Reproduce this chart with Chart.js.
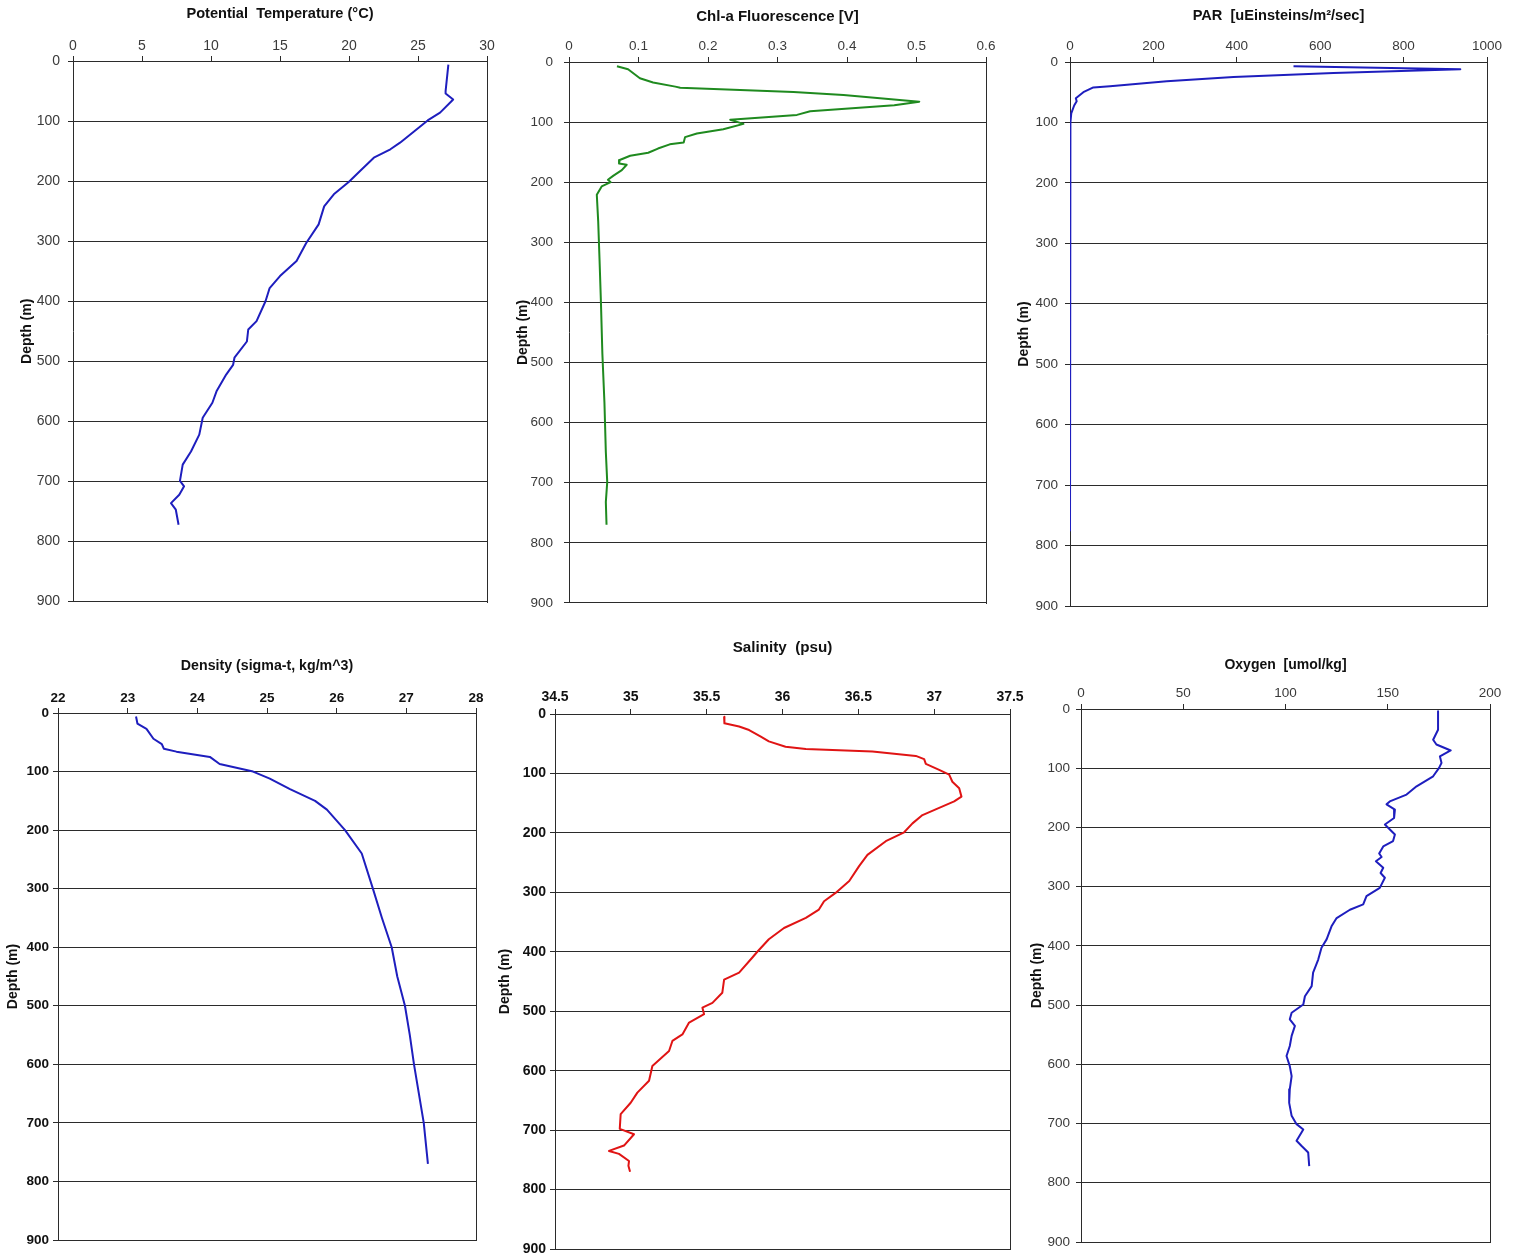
<!DOCTYPE html>
<html>
<head>
<meta charset="utf-8">
<title>CTD profiles</title>
<script src="https://cdn.jsdelivr.net/npm/chart.js@4.4.1/dist/chart.umd.min.js"></script>
<style>
  html, body { margin: 0; padding: 0; background: #fff; }
  body { position: relative; width: 1522px; height: 1259px; overflow: hidden; }
  .panel { position: absolute; }
</style>
</head>
<body>
<div class="panel"><canvas id="tempChart"></canvas></div>
<div class="panel"><canvas id="chlChart"></canvas></div>
<div class="panel"><canvas id="parChart"></canvas></div>
<div class="panel"><canvas id="densChart"></canvas></div>
<div class="panel"><canvas id="salChart"></canvas></div>
<div class="panel"><canvas id="oxyChart"></canvas></div>
<script>
// Depth axis (shared by every panel)
const depthTicks = [0, 100, 200, 300, 400, 500, 600, 700, 800, 900];

// Potential temperature
const tempTicks = [0, 5, 10, 15, 20, 25, 30];
const tempDepth = [6, 50, 54, 64, 86, 99, 136, 147, 161, 183, 201, 222, 242, 272, 303, 333, 358, 378, 400, 433, 447, 467, 494, 506, 522, 550, 569, 594, 622, 650, 672, 699, 708, 722, 736, 747, 772];
const tempValue = [27.2, 27.0, 27.0, 27.55, 26.6, 25.7, 23.7, 23.0, 21.8, 20.8, 20.0, 18.9, 18.2, 17.8, 16.9, 16.2, 15.0, 14.25, 13.95, 13.3, 12.7, 12.6, 11.7, 11.6, 11.1, 10.4, 10.1, 9.4, 9.15, 8.55, 7.95, 7.75, 8.05, 7.7, 7.1, 7.45, 7.65];

// Chl-a fluorescence
const chlTicks = [0, 0.1, 0.2, 0.3, 0.4, 0.5, 0.6];
const chlDepth = [7, 12, 27, 34, 41, 43, 50, 55, 66, 72, 82, 88, 96, 98, 103, 112, 119, 125, 134, 137, 144, 151, 156, 163, 169, 171, 180, 189, 196, 200, 207, 221, 265, 331, 402, 485, 567, 649, 699, 732, 770];
const chlValue = [0.069, 0.085, 0.102, 0.121, 0.153, 0.160, 0.323, 0.395, 0.504, 0.468, 0.347, 0.328, 0.232, 0.237, 0.251, 0.222, 0.184, 0.167, 0.165, 0.145, 0.128, 0.114, 0.088, 0.073, 0.072, 0.083, 0.076, 0.064, 0.056, 0.060, 0.047, 0.040, 0.042, 0.044, 0.046, 0.048, 0.051, 0.053, 0.055, 0.053, 0.054];

// PAR
const parTicks = [0, 200, 400, 600, 800, 1000];
const parDepth = [7, 12, 18, 25, 32, 40, 42, 50, 60, 65, 72, 85, 100, 140, 775];
const parValue = [536, 936, 632, 392, 232, 96, 56, 32, 14, 16, 10, 3, 1, 0, 0];

// Density (sigma-t)
const densTicks = [22, 23, 24, 25, 26, 27, 28];
const densDepth = [6, 18, 27, 44, 53, 61, 66, 75, 87, 100, 112, 130, 150, 165, 200, 240, 300, 350, 400, 450, 500, 550, 600, 650, 700, 770];
const densValue = [23.12, 23.14, 23.27, 23.37, 23.49, 23.52, 23.70, 24.18, 24.32, 24.80, 25.04, 25.33, 25.69, 25.86, 26.12, 26.36, 26.52, 26.65, 26.79, 26.87, 26.98, 27.05, 27.11, 27.18, 27.25, 27.31];

// Salinity
const salTicks = [34.5, 35, 35.5, 36, 36.5, 37, 37.5];
const salDepth = [4.5, 15.7, 21, 27, 38, 46, 55, 59, 63, 70.5, 76, 84, 94, 102, 114, 125, 139, 147, 158, 170, 184, 199, 214, 237, 256, 281, 301, 315, 329, 343, 360, 379, 400, 410, 435, 447, 469, 486, 494, 505, 519, 539, 550, 567, 592, 617, 637, 654, 673, 698, 707, 726, 735, 740, 752, 760, 770];
const salValue = [35.615, 35.617, 35.714, 35.78, 35.857, 35.91, 36.02, 36.154, 36.593, 36.879, 36.934, 36.945, 37.033, 37.099, 37.12, 37.165, 37.18, 37.132, 37.033, 36.923, 36.857, 36.802, 36.681, 36.56, 36.505, 36.44, 36.35, 36.274, 36.24, 36.154, 36.01, 35.91, 35.834, 35.80, 35.714, 35.615, 35.603, 35.538, 35.472, 35.483, 35.384, 35.34, 35.274, 35.252, 35.142, 35.12, 35.043, 34.999, 34.933, 34.927, 35.021, 34.955, 34.856, 34.922, 34.988, 34.984, 34.995];

// Oxygen
const oxyTicks = [0, 50, 100, 150, 200];
const oxyDepth = [4, 35, 52, 60, 70, 80, 91, 99.5, 113.6, 130.5, 144.5, 156, 161, 170, 184, 195, 212, 223, 232, 244, 250, 257, 268, 277, 285, 302, 316, 330, 339, 353, 367, 389, 403, 423, 445, 468, 485, 499, 513, 524, 535, 552, 569, 586, 603, 620, 642, 665, 687, 701, 710, 729, 738, 749, 772];
const oxyValue = [174.6, 174.6, 172.2, 173.8, 180.8, 175.5, 176.3, 175.1, 172.2, 164.1, 159.2, 151.0, 149.4, 153.5, 153.1, 148.6, 153.5, 152.6, 147.8, 145.8, 147.0, 144.2, 147.8, 146.5, 148.6, 146.1, 139.6, 138.0, 131.5, 125.0, 122.5, 120.1, 117.6, 116.0, 113.5, 112.8, 109.5, 108.7, 103.0, 102.1, 104.6, 103.0, 102.1, 100.5, 102.1, 103.0, 102.1, 101.8, 103.0, 105.4, 108.7, 105.4, 107.9, 111.1, 111.6];

Chart.defaults.font.family = '"Liberation Sans", Arial, Helvetica, sans-serif';

const BLUE = '#1e1ebe';
const LINE = '#2b2b2b';

// Where each plot sits on the page (plot box edges, title / label positions)
const panels = [
    { canvas: 'tempChart', title: 'Potential  Temperature (°C)', depth: tempDepth, values: tempValue, xTicks: tempTicks, color: BLUE, bold: false,
      titleSize: 14.6, tickSize: 14,
      left: 73, top: 61, right: 487, bottom: 602, titleY: 14, labelY: 46, yTitleX: 27, labelRight: 60 },
    { canvas: 'chlChart', title: 'Chl-a Fluorescence [V]', depth: chlDepth, values: chlValue, xTicks: chlTicks, color: '#1f8a1f', bold: false,
      titleSize: 15, tickSize: 13.5,
      left: 569, top: 62, right: 986, bottom: 606, titleY: 17, labelY: 46, yTitleX: 523, labelRight: 553 },
    { canvas: 'parChart', title: 'PAR  [uEinsteins/m²/sec]', depth: parDepth, values: parValue, xTicks: parTicks, color: BLUE, bold: false,
      titleSize: 14.6, tickSize: 13.5,
      left: 1070, top: 62, right: 1487, bottom: 606, titleY: 16, labelY: 46, yTitleX: 1024, labelRight: 1058 },
    { canvas: 'densChart', title: 'Density (sigma-t, kg/m^3)', depth: densDepth, values: densValue, xTicks: densTicks, color: BLUE, bold: true,
      titleSize: 14.2, tickSize: 13.5,
      left: 58, top: 713, right: 476, bottom: 1240, titleY: 667, labelY: 698, yTitleX: 13, labelRight: 49 },
    { canvas: 'salChart', title: 'Salinity  (psu)', depth: salDepth, values: salValue, xTicks: salTicks, color: '#e01414', bold: true,
      titleSize: 15.2, tickSize: 14,
      left: 555, top: 714, right: 1010, bottom: 1249, titleY: 648, labelY: 697, yTitleX: 505, labelRight: 546 },
    { canvas: 'oxyChart', title: 'Oxygen  [umol/kg]', depth: oxyDepth, values: oxyValue, xTicks: oxyTicks, color: BLUE, bold: false,
      titleSize: 14, tickSize: 13.5,
      left: 1081, top: 709, right: 1490, bottom: 1242, titleY: 665, labelY: 693, yTitleX: 1037, labelRight: 1070 }
];

// Right-hand edge of the plot box (left/top/bottom come from the axes and grid)
const frame = {
    id: 'frame',
    afterDraw(chart) {
        const { ctx, chartArea: a } = chart;
        const x = Math.round(a.right - 0.5) + 0.5;
        ctx.save();
        ctx.strokeStyle = LINE;
        ctx.lineWidth = 1;
        ctx.beginPath();
        ctx.moveTo(x, Math.round(a.top));
        ctx.lineTo(x, Math.round(a.bottom) + 1);
        ctx.stroke();
        ctx.restore();
    }
};

function buildPanel(p) {
    const titleH = p.titleSize * 1.2;
    const yTitleHalf = 14 * 1.2 / 2;
    const tickHalf = p.tickSize * 1.2 / 2;
    const top0 = Math.round(p.titleY - titleH / 2 - 2);
    const left0 = Math.round(p.yTitleX - yTitleHalf);
    const padRight = 30, padBottom = 16;

    const canvas = document.getElementById(p.canvas);
    const wrap = canvas.parentNode;
    wrap.style.left = left0 + 'px';
    wrap.style.top = top0 + 'px';
    wrap.style.width = (p.right + padRight - left0) + 'px';
    wrap.style.height = (p.bottom + padBottom - top0) + 'px';

    const xAxisH = p.top - top0 - (titleH + 2);
    const xPad = Math.max(0, p.top - 5 - tickHalf - p.labelY);
    const yPad = Math.max(0, p.left - 5 - p.labelRight);
    const tickFont = { size: p.tickSize, weight: p.bold ? 'bold' : 'normal' };
    const tickColor = p.bold ? '#111' : '#3a3a3a';

    new Chart(canvas, {
        type: 'scatter',
        data: {
            datasets: [{
                data: p.depth.map((d, i) => ({ x: p.values[i], y: d })),
                showLine: true,
                borderColor: p.color,
                borderWidth: 2,
                borderJoinStyle: 'round',
                pointRadius: 0,
                tension: 0
            }]
        },
        options: {
            responsive: true,
            maintainAspectRatio: false,
            animation: false,
            layout: { padding: { left: 0, top: 0, right: padRight, bottom: padBottom } },
            plugins: {
                legend: { display: false },
                tooltip: { enabled: false },
                title: {
                    display: true,
                    text: p.title,
                    fullSize: false,
                    color: '#111',
                    font: { size: p.titleSize, weight: 'bold' },
                    padding: { top: 2, bottom: 0 }
                }
            },
            scales: {
                x: {
                    type: 'linear',
                    position: 'top',
                    min: p.xTicks[0],
                    max: p.xTicks[p.xTicks.length - 1],
                    afterBuildTicks: s => { s.ticks = p.xTicks.map(v => ({ value: v })); },
                    afterFit: s => { s.height = xAxisH; },
                    ticks: {
                        autoSkip: false,
                        maxRotation: 0,
                        padding: xPad,
                        font: tickFont,
                        color: tickColor,
                        callback: v => String(v)
                    },
                    grid: { drawOnChartArea: false, tickLength: 5, color: LINE },
                    border: { color: LINE }
                },
                y: {
                    type: 'linear',
                    reverse: true,
                    min: depthTicks[0],
                    max: depthTicks[depthTicks.length - 1],
                    afterBuildTicks: s => { s.ticks = depthTicks.map(v => ({ value: v })); },
                    afterFit: s => { s.width = p.left - left0; },
                    title: {
                        display: true,
                        text: 'Depth (m)',
                        color: '#111',
                        font: { size: 14, weight: 'bold' },
                        padding: 0
                    },
                    ticks: {
                        autoSkip: false,
                        padding: yPad,
                        font: tickFont,
                        color: tickColor,
                        callback: v => String(v)
                    },
                    grid: { tickLength: 5, color: LINE },
                    border: { color: LINE }
                }
            }
        },
        plugins: [frame]
    });
}

panels.forEach(buildPanel);
</script>
</body>
</html>
